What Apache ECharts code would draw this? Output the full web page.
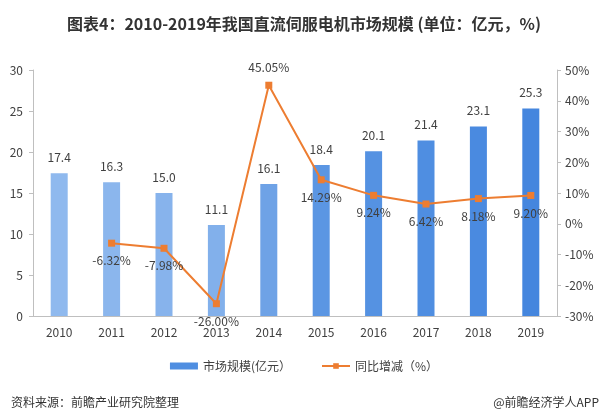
<!DOCTYPE html>
<html><head><meta charset="utf-8">
<script src="https://cdn.jsdelivr.net/npm/echarts@6/dist/echarts.min.js"></script>
<style>html,body{margin:0;padding:0;background:#fff}#c{width:608px;height:417px}</style>
</head><body><div id="c"></div>
<script>
const years = ['2010','2011','2012','2013','2014','2015','2016','2017','2018','2019'];
const marketSize = [17.4, 16.3, 15.0, 11.1, 16.1, 18.4, 20.1, 21.4, 23.1, 25.3];
const growth = [null, -6.32, -7.98, -26.00, 45.05, 14.29, 9.24, 6.42, 8.18, 9.20];
const leftTicks = {min: 0, max: 30, interval: 5};
const rightTicks = {min: -30, max: 50, interval: 10};

const barColors = ['#8fb9ee','#8bb6ed','#87b3ec','#82b0eb','#6ea2e6','#5b96e3','#5592e2','#4f8ee1','#4a8ae0','#4586de'];
const font = '"Noto Sans CJK SC", "Noto Sans", sans-serif';
const chart = echarts.init(document.getElementById('c'));
chart.setOption({
  animation: false,
  textStyle: {fontFamily: font},
  title: [{
    text: '图表4：2010-2019年我国直流伺服电机市场规模 (单位：亿元，%)',
    left: 'center', top: 11,
    textStyle: {fontSize: 16, fontWeight: 'bold', color: '#333', fontFamily: font}
  },{
    text: '资料来源：前瞻产业研究院整理', left: 6, top: 391,
    textStyle: {fontSize: 12, fontWeight: 'normal', color: '#333', fontFamily: font}
  },{
    text: '@前瞻经济学人APP', right: 4, top: 391,
    textStyle: {fontSize: 12, fontWeight: 'normal', color: '#333', fontFamily: font}
  }],
  legend: {
    top: 355, left: 'center', itemGap: 30,
    textStyle: {fontSize: 12, color: '#404040'},
    data: [
      {name: '市场规模(亿元）', icon: 'rect', itemStyle: {color: '#4f8ee1'}},
      {name: '同比增减（%）'}
    ],
    itemWidth: 28, itemHeight: 7
  },
  grid: {left: 33, right: 51, top: 70, bottom: 101},
  xAxis: {
    type: 'category', data: years,
    axisLine: {lineStyle: {color: '#bfbfbf'}},
    axisTick: {show: false},
    axisLabel: {color: '#404040', fontSize: 12, margin: 10}
  },
  yAxis: [{
    type: 'value', min: leftTicks.min, max: leftTicks.max, interval: leftTicks.interval,
    axisLine: {show: true, lineStyle: {color: '#bfbfbf'}},
    axisTick: {show: true, length: 4, lineStyle: {color: '#bfbfbf'}},
    splitLine: {show: false},
    axisLabel: {color: '#404040', fontSize: 12, margin: 10}
  },{
    type: 'value', min: rightTicks.min, max: rightTicks.max, interval: rightTicks.interval,
    axisLine: {show: true, lineStyle: {color: '#bfbfbf'}},
    axisTick: {show: true, length: 4, lineStyle: {color: '#bfbfbf'}},
    splitLine: {show: false},
    axisLabel: {color: '#404040', fontSize: 12, margin: 8, formatter: v => v + '%'}
  }],
  series: [{
    name: '市场规模(亿元）', type: 'bar', barWidth: 17,
    data: marketSize.map((v, i) => ({value: v, itemStyle: {color: barColors[i]}})),
    itemStyle: {color: '#4f8ee1'},
    label: {show: true, position: 'top', distance: 10, color: '#404040', fontSize: 12,
      formatter: p => p.value.toFixed(1)}
  },{
    name: '同比增减（%）', type: 'line', yAxisIndex: 1,
    data: growth.map((v, i) => i === 4 ? {value: v, label: {position: 'top'}} : v),
    symbol: 'rect', symbolSize: 7,
    lineStyle: {color: '#ed7d31', width: 2},
    itemStyle: {color: '#ed7d31'},
    label: {show: true, position: 'bottom', distance: 8, color: '#404040', fontSize: 12,
      formatter: p => p.value.toFixed(2) + '%'},
    labelLayout: {hideOverlap: false}
  }]
});
</script>
</body></html>
